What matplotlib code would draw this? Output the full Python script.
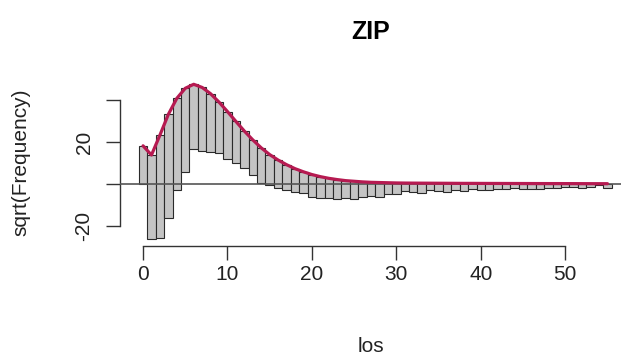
import numpy as np
import matplotlib
matplotlib.use("Agg")
import matplotlib.pyplot as plt

plt.rcParams['font.family'] = ['Liberation Sans', 'DejaVu Sans']

# ---- data ----
los = list(range(0, 56))
fitted_sqrt = [18.2, 13.8, 23.3, 33.2, 40.8, 45.6, 47.5, 46.0, 43.0, 39.0,
               34.5, 29.8, 25.2, 21.0, 17.2, 14.0, 11.4, 9.2, 7.3, 5.8,
               4.5, 3.5, 2.7, 2.1, 1.6, 1.3, 1.0, 0.8, 0.7, 0.6,
               0.5, 0.45, 0.42, 0.4, 0.38, 0.36, 0.34, 0.32, 0.3, 0.3,
               0.28, 0.27, 0.26, 0.25, 0.24, 0.23, 0.22, 0.21, 0.2, 0.2,
               0.19, 0.18, 0.17, 0.16, 0.15, 0.15]
observed_sqrt = [18.2, 40.1, 49.2, 49.5, 43.7, 40.0, 30.8, 30.3, 27.6, 24.1,
                 22.7, 20.0, 17.7, 16.7, 16.7, 14.5, 13.4, 12.2, 11.0, 10.2,
                 10.5, 10.3, 9.2, 9.1, 8.1, 8.3, 7.0, 6.3, 6.7, 5.6,
                 5.5, 3.95, 4.42, 4.9, 3.38, 3.86, 4.34, 3.32, 3.8, 2.8,
                 3.28, 3.27, 2.76, 2.75, 2.24, 2.73, 2.72, 2.71, 2.2, 2.2,
                 1.69, 1.68, 2.17, 1.66, 0.65, 2.15]
x_ticks = [0, 10, 20, 30, 40, 50]
y_ticks = [-20, 0, 20, 40]
y_ticklabels = ['-20', '', '20', '']
title = "ZIP"
xlabel = "los"
ylabel = "sqrt(Frequency)"

W, H = 623, 358
fig = plt.figure(figsize=(W / 100, H / 100), dpi=100)
left, right, top, bottom = 119.9, 621.0, 78.0, 245.5
ax = fig.add_axes([left / W, 1 - bottom / H, (right - left) / W, (bottom - top) / H])

fitted = np.array(fitted_sqrt)
observed = np.array(observed_sqrt)
ax.bar(los, observed, bottom=fitted - observed, width=1.0,
       color='#C4C4C4', edgecolor='#2a2a2a', linewidth=0.8, zorder=2)
ax.axhline(0, color='#555555', lw=1.2, zorder=3)
ax.plot(los, fitted, color='#B61A51', lw=2.3, zorder=4, solid_capstyle='round')

ax.set_xlim(-2.74, 56.6)
ax.set_ylim(-29.3, 50.5)

for s in ['top', 'right']:
    ax.spines[s].set_visible(False)
ax.spines['left'].set_bounds(-20, 40)
ax.spines['bottom'].set_bounds(0, 50)
for s in ['left', 'bottom']:
    ax.spines[s].set_color('#333333')
    ax.spines[s].set_linewidth(1.0)

ax.set_xticks(x_ticks)
ax.set_yticks(y_ticks)
ax.set_yticklabels(y_ticklabels, rotation=90, va='center')
ax.tick_params(axis='both', length=10, width=1.0, color='#333333',
               labelsize=15, labelcolor='#222222')
ax.tick_params(axis='x', pad=4)
ax.tick_params(axis='y', pad=9)

ax.set_title(title, fontsize=18, fontweight='bold', pad=28)
ax.set_xlabel(xlabel, fontsize=15, labelpad=38, color='#222222')
ax.set_ylabel(ylabel, fontsize=15, labelpad=32, color='#222222')

fig.savefig('out.png', dpi=100)
